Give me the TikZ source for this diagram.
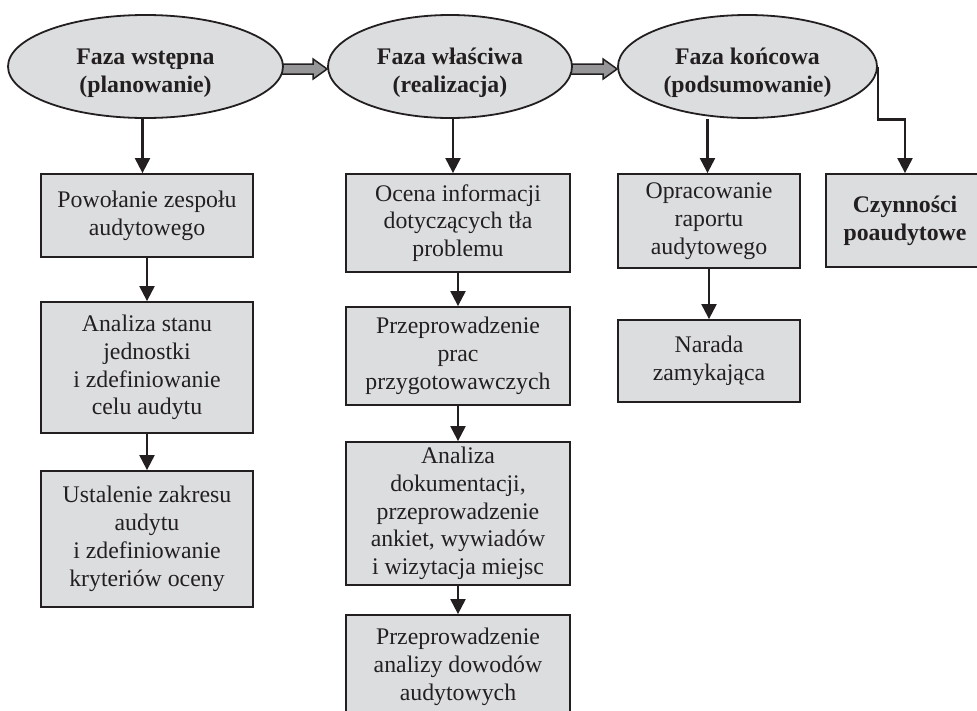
\documentclass[tikz,border=0pt]{standalone}
\usepackage{fontspec}
\setmainfont{Liberation Serif}
\usetikzlibrary{shapes.geometric,arrows.meta,calc,backgrounds}
\definecolor{boxfill}{RGB}{220,221,223}
\definecolor{ink}{RGB}{35,31,32}
\definecolor{fatgray}{RGB}{150,150,152}
\begin{document}
\begin{tikzpicture}[x=1pt,y=-1pt,
  txt/.style={font=\fontsize{23.8}{27.8}\selectfont, text=ink, align=center},
  phase/.style={ellipse, draw=ink, line width=1.8pt, fill=boxfill, inner sep=0pt, txt, font=\fontsize{23.8}{27.8}\selectfont\bfseries, minimum height=103pt},
  stepbox/.style={rectangle, draw=ink, line width=1.8pt, fill=boxfill, inner sep=0pt, txt},
  arr/.style={draw=ink, line width=2.1pt, -{Triangle[length=15pt,width=15pt]}},
  fat/.style={draw=ink, line width=1.5pt, fill=fatgray, line join=miter}
]
\useasboundingbox (0,0) rectangle (977,710);

% phases
\node[phase, minimum width=275pt] (e1) at (145.5,66.5) {\rule{0pt}{29pt}Faza wstępna\\(planowanie)};
\node[phase, minimum width=244pt] (e2) at (450,66.5) {\rule{0pt}{29pt}Faza właściwa\\(realizacja)};
\node[phase, minimum width=259pt] (e3) at (747.5,66.5) {\rule{0pt}{29pt}Faza końcowa\\(podsumowanie)};

% column 1
\node[stepbox, minimum width=212pt, minimum height=83pt] (b11) at (147,215.5) {Powołanie zespołu\\audytowego};
\node[stepbox, minimum width=212pt, minimum height=131pt] (b12) at (147,367.5) {Analiza stanu\\jednostki\\i zdefiniowanie\\celu audytu};
\node[stepbox, minimum width=212pt, minimum height=136pt] (b13) at (147,539) {Ustalenie zakresu\\audytu\\i zdefiniowanie\\kryteriów oceny};

% column 2
\node[stepbox, minimum width=224pt, minimum height=98pt] (b21) at (458,223) {Ocena informacji\\dotyczących tła\\problemu};
\node[stepbox, minimum width=224pt, minimum height=98pt] (b22) at (458,356) {Przeprowadzenie\\prac\\przygotowawczych};
\node[stepbox, minimum width=224pt, minimum height=143pt] (b23) at (458,513.5) {Analiza\\dokumentacji,\\przeprowadzenie\\ankiet, wywiadów\\i wizytacja miejsc};
\node[stepbox, minimum width=224pt, minimum height=104pt] (b24) at (458,667) {Przeprowadzenie\\analizy dowodów\\audytowych};

% column 3
\node[stepbox, minimum width=182pt, minimum height=94pt] (b31) at (709,221) {Opracowanie\\raportu\\audytowego};
\node[stepbox, minimum width=182pt, minimum height=82pt] (b32) at (709,361) {Narada\\zamykająca};

% column 4
\node[stepbox, minimum width=158pt, minimum height=93pt, font=\fontsize{23.8}{27.8}\selectfont\bfseries] (b41) at (905,220.5) {Czynności\\poaudytowe};

% fat gray arrows between phases
\begin{scope}[on background layer]
\path ($(e1.east)+(-6,2.5)$) coordinate (s1);
\path ($(e2.west)+(0,2.5)$) coordinate (t1);
\draw[fat] (s1) ++(0,-5) -- ($(t1)+(-14,-5)$) -- ($(t1)+(-14,-10)$) -- (t1)
  -- ($(t1)+(-14,10)$) -- ($(t1)+(-14,5)$) -- ($(s1)+(0,5)$) -- cycle;
\path ($(e2.east)+(-6,2.5)$) coordinate (s2);
\path ($(e3.west)+(0,2.5)$) coordinate (t2);
\draw[fat] (s2) ++(0,-5) -- ($(t2)+(-14,-5)$) -- ($(t2)+(-14,-10)$) -- (t2)
  -- ($(t2)+(-14,10)$) -- ($(t2)+(-14,5)$) -- ($(s2)+(0,5)$) -- cycle;
\end{scope}

% phase to first steps
\draw[arr] ($(e1.south)+(-3,0)$) -- ($(e1.south |- b11.north)+(-3,0)$);
\draw[arr] ($(e2.south)+(3,0)$) -- ($(e2.south |- b21.north)+(3,0)$);
\draw[arr] ($(e3.south)+(-40,0)$) -- ($(e3.south |- b31.north)+(-40,0)$);
\draw[arr] (e3.east) -- ++(0,53) -| (b41.north);

% step chains
\draw[arr] (b11) -- (b12);
\draw[arr] (b12) -- (b13);
\draw[arr] (b21) -- (b22);
\draw[arr] (b22) -- (b23);
\draw[arr] (b23) -- (b24);
\draw[arr] (b31) -- (b32);
\end{tikzpicture}
\end{document}
